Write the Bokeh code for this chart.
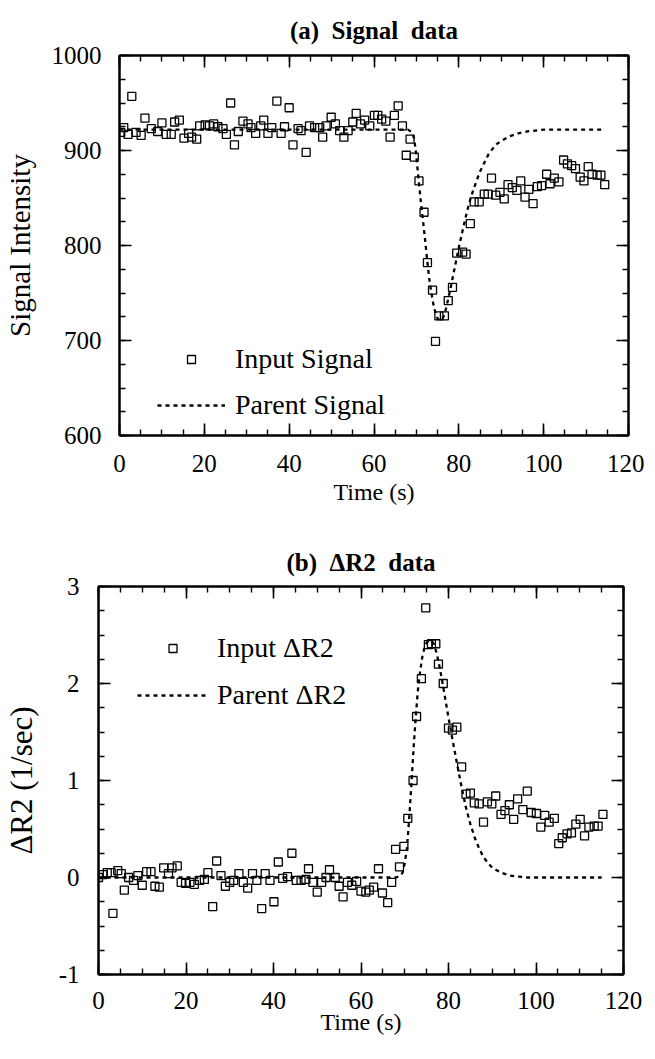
from bokeh.plotting import figure
from bokeh.models import LinearAxis, SingleIntervalTicker, Range1d, Legend, LegendItem
from bokeh.embed import file_html
from bokeh.resources import INLINE

FONT = "Liberation Serif"

# ---------------- Panel (a): signal data ----------------
sig_time = [0.3, 1, 2, 2.9, 3.9, 5.1, 6, 7.5, 9, 10, 11, 12.2, 13, 14.1, 15.2, 16.3, 17, 18.2, 18.9,
            20.2, 21.2, 22.2, 23.2, 24.4, 25.2, 26.2, 27.1, 28, 29.1, 30.3, 31, 32.1, 33.3, 34, 35,
            35.9, 37.1, 38.1, 38.9, 40, 40.9, 42.1, 42.8, 44, 44.8, 46, 47.2, 47.9, 48.7, 49.9, 50.9,
            51.9, 52.9, 53.9, 55, 55.8, 56.8, 57.8, 59, 60.1, 60.9, 61.8, 62.8, 63.8, 64.8, 65.7,
            66.7, 67.6, 68.5, 69.5, 70.6, 71.8, 72.6, 73.8, 74.5, 75.3, 76.6, 77.5, 78.5, 79.5, 80.9,
            81.7, 82.7, 83.6, 84.8, 86, 86.9, 87.7, 88.7, 89.7, 90.7, 91.6, 92.6, 93.7, 94.6, 95.6,
            96.5, 97.5, 98.5, 99.5, 100.7, 101.5, 102.5, 103.6, 104.7, 105.6, 106.6, 107.5, 108.6,
            109.5, 110.5, 111.4, 112.6, 113.5, 114.4]
sig_input = [919, 924, 917, 957, 919, 916, 934, 923, 920, 929, 917, 917, 930, 932, 913, 918, 914, 912,
             926, 927, 926, 928, 925, 923, 917, 950, 906, 920, 931, 928, 924, 918, 926, 932, 918, 924,
             952, 918, 925, 945, 906, 923, 921, 898, 926, 924, 924, 914, 926, 935, 928, 921, 914, 921,
             930, 939, 928, 932, 926, 937, 937, 933, 931, 914, 937, 947, 926, 895, 912, 893, 868, 835,
             782, 753, 699, 726, 726, 742, 756, 792, 793, 791, 823, 846, 846, 854, 854, 871, 853, 856,
             849, 864, 861, 858, 868, 851, 859, 844, 862, 863, 875, 865, 871, 867, 890, 886, 884, 881,
             872, 868, 883, 875, 874, 874, 864]
par_sig_time = [0, 68, 69, 69.5, 70, 70.5, 71, 71.5, 72, 72.5, 73, 73.5, 74, 74.5, 75, 75.5, 76, 76.5,
                77, 77.5, 78, 78.5, 79, 79.5, 80, 81, 82, 83, 84, 85, 86, 87, 88, 89, 90, 92, 94, 96,
                98, 100, 114]
par_sig = [922, 922, 919, 912, 893, 870, 848, 828, 808, 786, 766, 751, 738, 729, 723, 721, 722, 726,
           734, 744, 754, 765, 776, 787, 798, 818, 837, 853, 866, 878, 887, 896, 902, 907, 910, 915,
           918, 920, 921, 922, 922]

# ---------------- Panel (b): delta R2 data ----------------
dr2_time = [0, 1, 2, 2.9, 3.3, 4.4, 5.2, 5.9, 6.9, 8, 9, 10, 11, 12, 12.9, 13.9, 14.9, 16, 16.8, 18,
            18.9, 19.9, 20.9, 21.9, 23.1, 24.2, 25, 26.1, 27, 28, 29, 30, 30.9, 32.1, 33.1, 34.1, 35.2,
            36.2, 37.3, 38.1, 39.2, 40.1, 41.1, 42.1, 43.2, 44.2, 45.2, 46.3, 47.4, 48, 49, 50, 51, 52,
            52.8, 54.1, 55, 55.9, 56.9, 57.9, 59, 60, 61.1, 61.9, 62.9, 64, 64.9, 66.1, 67, 67.9, 68.8,
            69.8, 70.7, 71.9, 72.7, 73.8, 74.8, 75.4, 76.1, 77.1, 77.7, 78.8, 80, 80.9, 81.9, 83, 84,
            85, 85.9, 87, 88, 88.9, 89.9, 90.8, 92, 92.9, 93.9, 94.9, 95.8, 97, 98, 98.9, 100.1, 101.1,
            102, 103, 104.2, 105.2, 106, 107.1, 108.1, 109.1, 110.1, 111.1, 112.1, 113.3, 114.2, 115.3]
dr2_input = [0.0, 0.03, 0.05, 0.05, -0.37, 0.07, 0.04, -0.13, 0.0, -0.03, 0.02, -0.08, 0.06, 0.06,
             -0.09, -0.1, 0.1, 0.04, 0.1, 0.12, -0.05, -0.06, -0.05, -0.07, -0.03, -0.02, 0.05, -0.3,
             0.17, 0.02, -0.09, -0.05, -0.03, 0.04, -0.05, -0.11, 0.04, -0.03, -0.32, 0.04, -0.03,
             -0.25, 0.16, -0.01, 0.01, 0.25, -0.03, -0.03, -0.02, 0.09, -0.05, -0.15, -0.05, 0.0, 0.08,
             0.0, -0.09, -0.2, -0.05, -0.08, -0.04, -0.14, -0.15, -0.13, -0.1, 0.09, -0.16, -0.26,
             -0.05, 0.29, 0.11, 0.32, 0.61, 1.0, 1.66, 2.05, 2.78, 2.40, 2.41, 2.41, 2.2, 2.0, 1.54,
             1.52, 1.55, 1.14, 0.86, 0.87, 0.77, 0.76, 0.57, 0.78, 0.76, 0.84, 0.65, 0.69, 0.75, 0.6,
             0.81, 0.7, 0.89, 0.67, 0.66, 0.52, 0.64, 0.57, 0.61, 0.35, 0.41, 0.45, 0.46, 0.55, 0.6,
             0.43, 0.52, 0.53, 0.53, 0.65]
par_dr2_time = [0, 68, 69, 69.5, 70, 70.5, 71, 71.5, 72, 72.5, 73, 73.5, 74, 74.5, 75, 75.5, 76, 76.5,
                77, 77.5, 78, 78.5, 79, 79.5, 80, 81, 82, 83, 84, 85, 86, 87, 88, 89, 90, 92, 94, 96,
                98, 100, 115]
par_dr2 = [0, 0, 0.02, 0.05, 0.15, 0.3, 0.6, 0.95, 1.32, 1.65, 1.93, 2.12, 2.27, 2.37, 2.42, 2.44,
           2.44, 2.42, 2.36, 2.27, 2.16, 2.04, 1.91, 1.78, 1.65, 1.4, 1.16, 0.93, 0.72, 0.55, 0.41,
           0.3, 0.21, 0.15, 0.1, 0.05, 0.02, 0.01, 0.0, 0.0, 0.0]

x_ticks_interval = 20
x_limits = (0, 120)
NBSP = "\u00a0"


def style_axis(ax, labels, tick_fs="25px", lab_fs="26px"):
    ax.axis_line_color = "black"
    ax.axis_line_width = 2
    ax.major_tick_line_color = "black"
    ax.minor_tick_line_color = "black"
    ax.major_tick_line_width = 1.6
    ax.minor_tick_line_width = 1.4
    ax.major_tick_in = 12
    ax.major_tick_out = 0
    ax.minor_tick_in = 6
    ax.minor_tick_out = 0
    if labels:
        ax.major_label_text_font = FONT
        ax.major_label_text_font_size = tick_fs
        ax.major_label_text_color = "black"
        ax.axis_label_text_font = FONT
        ax.axis_label_text_font_size = lab_fs
        ax.axis_label_text_font_style = "normal"
        ax.axis_label_text_color = "black"
    else:
        ax.major_label_text_font_size = "1px"
        ax.major_label_text_alpha = 0
        ax.major_label_standoff = 0


def build(title, ylabel, ylab_fs, ylim, yint, fw, fh, bl, br, bt, bb, title_standoff,
          xstand, xlab_stand, ystand, ylab_stand):
    p = figure(frame_width=fw, frame_height=fh, x_range=Range1d(*x_limits), y_range=Range1d(*ylim),
               output_backend="svg", toolbar_location=None, title=title,
               min_border_left=bl, min_border_right=br, min_border_top=bt, min_border_bottom=bb)
    p.grid.visible = False
    p.outline_line_color = "black"
    p.outline_line_width = 2
    p.background_fill_color = "white"
    p.border_fill_color = "white"
    p.title.text_font = FONT
    p.title.text_font_size = "25px"
    p.title.text_font_style = "bold"
    p.title.text_color = "black"
    p.title.align = "center"
    p.title.standoff = title_standoff
    xa = p.xaxis[0]
    ya = p.yaxis[0]
    xa.ticker = SingleIntervalTicker(interval=x_ticks_interval, num_minor_ticks=4)
    ya.ticker = SingleIntervalTicker(interval=yint, num_minor_ticks=4)
    style_axis(xa, True, lab_fs="24px")
    style_axis(ya, True, lab_fs=ylab_fs)
    xa.axis_label = "Time (s)"
    ya.axis_label = ylabel
    xa.major_label_standoff = xstand
    xa.axis_label_standoff = xlab_stand
    ya.major_label_standoff = ystand
    ya.axis_label_standoff = ylab_stand
    top = LinearAxis(ticker=SingleIntervalTicker(interval=x_ticks_interval, num_minor_ticks=4))
    right = LinearAxis(ticker=SingleIntervalTicker(interval=yint, num_minor_ticks=4))
    style_axis(top, False)
    style_axis(right, False)
    p.add_layout(top, "above")
    p.add_layout(right, "right")
    return p


def add_data(p, t, v, pt, pv, lab1, lab2, loc, gw, gstand, spacing):
    r_line = p.line(pt, pv, line_color="black", line_width=2.3, line_dash="4 4")
    r_pts = p.scatter(t, v, marker="square", size=8, line_color="black", line_width=1.3,
                      fill_color=None)
    leg = Legend(items=[LegendItem(label=lab1, renderers=[r_pts]),
                        LegendItem(label=lab2, renderers=[r_line])],
                 location=loc, glyph_width=gw, glyph_height=20, label_height=31,
                 label_standoff=gstand, spacing=spacing, padding=10,
                 border_line_color=None, background_fill_alpha=0,
                 label_text_font=FONT, label_text_font_size="28px", label_text_color="black")
    p.add_layout(leg)


pa = build("(a)" + NBSP * 2 + "Signal" + NBSP * 2 + "data", "Signal Intensity", "29px",
           (600, 1000), 100, 509, 380, 114, 16, 55, 78, 24, 19, 4, 18, 13)
add_data(pa, sig_time, sig_input, par_sig_time, par_sig, "Input Signal", "Parent Signal",
         (38, 14), 68, 10, 14)

pb = build("(b)" + NBSP * 2 + "\u0394R2" + NBSP * 2 + "data", "\u0394R2 (1/sec)", "31px",
           (-1, 3), 1, 525, 388, 93, 21, 73, 69, 22, 17, -3, 19, 17)
pb.yaxis[0].major_label_overrides = {-1: "-1"}
add_data(pb, dr2_time, dr2_input, par_dr2_time, par_dr2, "Input \u0394R2", "Parent \u0394R2",
         (39, 263), 71, 9, 15)

open("out.html", "w").write(file_html([pa, pb], INLINE))
